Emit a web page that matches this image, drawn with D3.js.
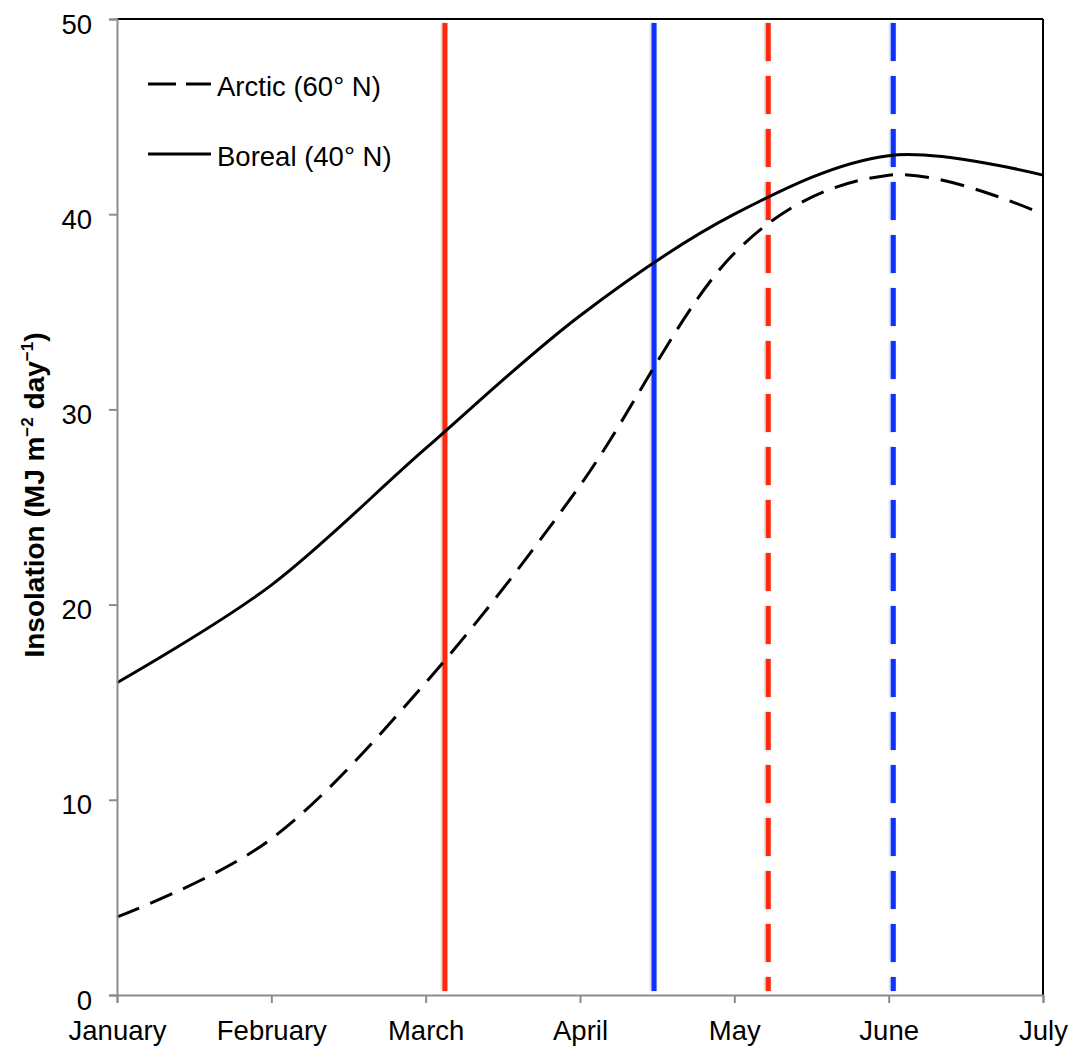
<!DOCTYPE html>
<html>
<head>
<meta charset="utf-8">
<script src="https://cdn.jsdelivr.net/npm/d3@7"></script>
<style>
  body { margin: 0; background: #fff; }
  svg text { font-family: "Liberation Sans", Arial, sans-serif; }
</style>
</head>
<body>
<svg id="chart"></svg>
<script>
// month labels along the x axis (Jan = 0 ... Jul = 6)
const months = ["January", "February", "March", "April", "May", "June", "July"];
const yTicks = [0, 10, 20, 30, 40, 50];

// insolation, MJ m-2 day-1, read at the first of each month
const borealValues = [16.0, 21.0, 28.0, 34.8, 40.0, 43.0, 42.0];
const arcticValues = [4.0, 8.0, 16.0, 26.1, 38.0, 42.0, 40.0];

// vertical marker lines, position in months from Jan 1
const markerPos = [2.125, 3.48, 4.22, 5.03];
const markerColor = ["#ff2a0a", "#0a32ff", "#ff2a0a", "#0a32ff"];
const markerDashed = [false, false, true, true];

const width = 1076, height = 1049;
const margin = { top: 19, right: 33, bottom: 54, left: 117 };
const fontSize = 27.5;

const svg = d3.select("#chart")
    .attr("width", width)
    .attr("height", height);

// soft shadow like the original marker lines
const defs = svg.append("defs");
defs.append("filter")
    .attr("id", "shadow")
    .attr("filterUnits", "userSpaceOnUse")
    .attr("x", 0).attr("y", 0)
    .attr("width", width).attr("height", height)
    .append("feDropShadow")
    .attr("dx", -1).attr("dy", 0)
    .attr("stdDeviation", 1.2)
    .attr("flood-color", "#000")
    .attr("flood-opacity", 0.25);

const x = d3.scaleLinear()
    .domain([0, months.length - 1])
    .range([margin.left, width - margin.right]);

const y = d3.scaleLinear()
    .domain([0, 50])
    .range([height - margin.bottom, margin.top]);

// black frame on top and right
svg.append("line")
   .attr("x1", x(0)).attr("x2", x(6))
   .attr("y1", y(50)).attr("y2", y(50))
   .attr("stroke", "#000").attr("stroke-width", 2);
svg.append("line")
   .attr("x1", x(6)).attr("x2", x(6))
   .attr("y1", y(50)).attr("y2", y(0))
   .attr("stroke", "#000").attr("stroke-width", 2);

// marker lines
markerPos.forEach((p, i) => {
    const ln = svg.append("line")
        .attr("x1", x(p)).attr("x2", x(p))
        .attr("y1", y(50) + 4).attr("y2", y(0) - 4)
        .attr("stroke", markerColor[i])
        .attr("stroke-width", 5)
        .attr("filter", "url(#shadow)");
    if (markerDashed[i]) ln.attr("stroke-dasharray", "38 15");
});

// curves
const line = d3.line()
    .x((d, i) => x(i))
    .y(d => y(d))
    .curve(d3.curveCardinal.tension(0));

svg.append("path")
   .attr("d", line(borealValues))
   .attr("fill", "none")
   .attr("stroke", "#000")
   .attr("stroke-width", 3);

svg.append("path")
   .attr("d", line(arcticValues))
   .attr("fill", "none")
   .attr("stroke", "#000")
   .attr("stroke-width", 3)
   .attr("stroke-dasharray", "24 12");

// y axis
const yAxis = svg.append("g")
    .attr("transform", `translate(${x(0)},0)`)
    .call(d3.axisLeft(y).tickValues(yTicks).tickSize(8).tickPadding(17).tickFormat(d3.format("d")));
yAxis.select(".domain").attr("stroke", "#8c8c8c").attr("stroke-width", 2);
yAxis.selectAll(".tick line").attr("stroke", "#8c8c8c").attr("stroke-width", 2);
yAxis.selectAll(".tick text")
     .attr("font-size", fontSize)
     .attr("fill", "#000")
     .attr("dy", 0)
     .attr("y", 14)
     .attr("font-family", "Liberation Sans, Arial, sans-serif");

// x axis
const xAxis = svg.append("g")
    .attr("transform", `translate(0,${y(0)})`)
    .call(d3.axisBottom(x).tickValues(d3.range(months.length)).tickSize(8).tickFormat(i => months[i]));
xAxis.select(".domain").attr("stroke", "#8c8c8c").attr("stroke-width", 2);
xAxis.selectAll(".tick line").attr("stroke", "#8c8c8c").attr("stroke-width", 2);
xAxis.selectAll(".tick text")
     .attr("font-size", fontSize)
     .attr("fill", "#000")
     .attr("dy", 0)
     .attr("y", 45)
     .attr("font-family", "Liberation Sans, Arial, sans-serif");

// y axis title
const title = svg.append("text")
    .attr("transform", `translate(44,495) rotate(-90)`)
    .attr("text-anchor", "middle")
    .attr("font-size", 28)
    .attr("font-weight", "bold");
title.append("tspan").text("Insolation (MJ m");
title.append("tspan").attr("font-size", 17).attr("dy", -11).text("\u22122");
title.append("tspan").attr("dy", 11).text(" day");
title.append("tspan").attr("font-size", 17).attr("dy", -11).text("\u22121");
title.append("tspan").attr("dy", 11).text(")");

// legend
const legendItems = [
    { label: "Arctic (60\u00b0 N)", dash: "28 10", yPos: 84 },
    { label: "Boreal (40\u00b0 N)", dash: null, yPos: 154 }
];
legendItems.forEach(d => {
    const l = svg.append("line")
        .attr("x1", 148).attr("x2", 211)
        .attr("y1", d.yPos).attr("y2", d.yPos)
        .attr("stroke", "#000").attr("stroke-width", 3);
    if (d.dash) l.attr("stroke-dasharray", d.dash);
    svg.append("text")
       .attr("x", 217).attr("y", d.yPos + 11.5)
       .attr("font-size", fontSize)
       .text(d.label);
});
</script>
</body>
</html>
